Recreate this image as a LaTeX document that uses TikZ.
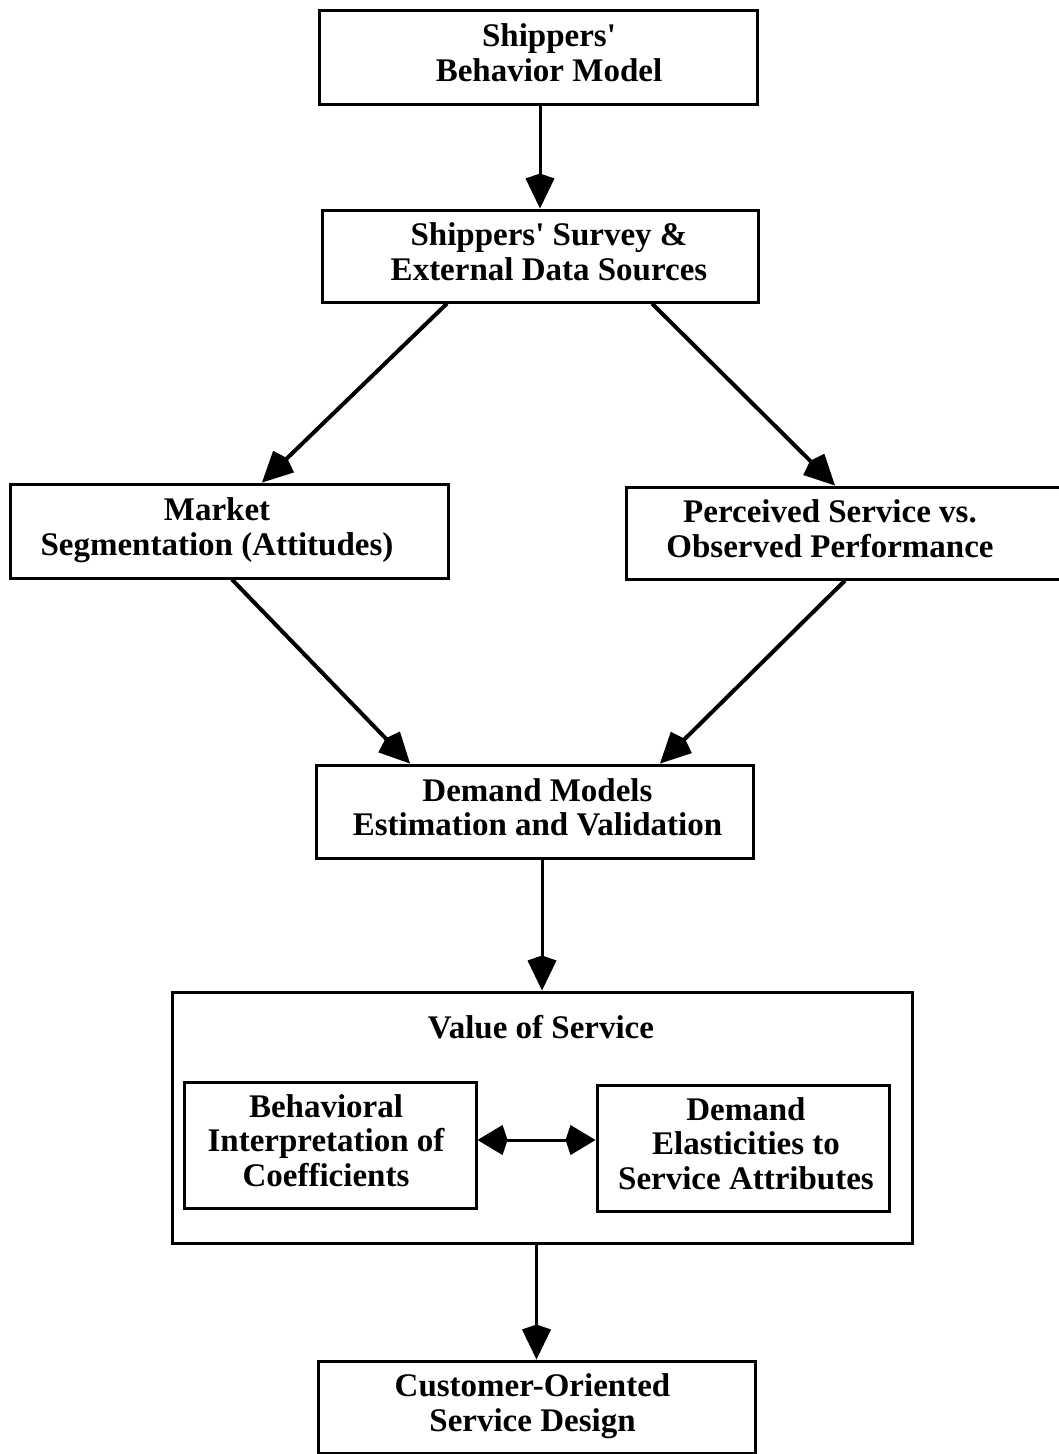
\documentclass[tikz,border=0pt]{standalone}
\usepackage{fontspec}
\setmainfont{Liberation Serif}
\usetikzlibrary{arrows.meta}
% centred block of lines, moved sideways inside its box by #1
\newcommand\offsetlines[2]{\hspace*{#1}\begin{tabular}{@{}c@{}}#2\end{tabular}\hspace*{-#1}}
\begin{document}
\begin{tikzpicture}[x=1pt,y=-1pt,
  box/.style={draw, line width=3pt, inner sep=0pt,
    font=\fontsize{33}{34.5}\selectfont\bfseries},
  head/.style={Kite[length=35pt,width=29pt,inset=5pt]},
  flow/.style={line width=3pt, -{Kite[length=35pt,width=29pt,inset=5pt]}},
  slant/.style={line width=4pt, -{Kite[length=35pt,width=30pt,inset=5pt]}},
  both/.style={line width=3pt,
    {Kite[length=30pt,width=30pt,inset=5pt]}-{Kite[length=30pt,width=30pt,inset=5pt]}}]
\useasboundingbox (0,0) rectangle (1058,1454);

% main column and branches
\node[box, minimum width=438pt, minimum height=94pt] (model) at (538,57)
  {\offsetlines{11pt}{Shippers\textquotesingle\\Behavior Model}};
\node[box, minimum width=436pt, minimum height=92pt] (survey) at (540,256)
  {\offsetlines{9pt}{Shippers\textquotesingle{} Survey \&\\External Data Sources}};
\node[box, minimum width=438pt, minimum height=94pt] (market) at (229,531)
  {\offsetlines{-12pt}{Market\\Segmentation (Attitudes)}};
\node[box, minimum width=436pt, minimum height=92pt] (perceived) at (844,533)
  {\offsetlines{-14pt}{Perceived Service vs.\\Observed Performance}};
\node[box, minimum width=437pt, minimum height=93pt] (demand) at (534.5,811.5)
  {\offsetlines{3pt}{Demand Models\\Estimation and Validation}};

% value of service group
\node[box, minimum width=740pt, minimum height=251pt] (value) at (542,1117.5) {};
\node[font=\fontsize{33}{34.5}\selectfont\bfseries] (valuetitle) at (541,1027) {Value of Service};
\node[box, minimum width=292pt, minimum height=126pt] (interp) at (330,1145)
  {\offsetlines{-4pt}{Behavioral\\Interpretation of\\Coefficients}};
\node[box, minimum width=292pt, minimum height=126pt] (elast) at (743,1148)
  {\offsetlines{3pt}{Demand\\Elasticities to\\Service Attributes}};

\node[box, minimum width=437pt, minimum height=92pt] (design) at (536.5,1407)
  {\offsetlines{-4pt}{Customer-Oriented\\Service Design}};

\coordinate (mid) at (0,1140);

% connectors
\draw[flow] (model.south -| survey.north) -- (survey.north);
\draw[slant] ([xshift=-93pt]survey.south) -- ([xshift=33pt]market.north);
\draw[slant] ([xshift=112pt]survey.south) -- ([xshift=-9pt]perceived.north);
\draw[slant] ([xshift=3pt]market.south) -- ([xshift=-124.5pt]demand.north);
\draw[slant] ([xshift=1pt]perceived.south) -- ([xshift=125.5pt]demand.north);
\draw[flow] (demand.south -| value.north) -- (value.north);
\draw[both] (interp.east |- mid) -- (elast.west |- mid);
\draw[flow] (value.south -| design.north) -- (design.north);
\end{tikzpicture}
\end{document}
